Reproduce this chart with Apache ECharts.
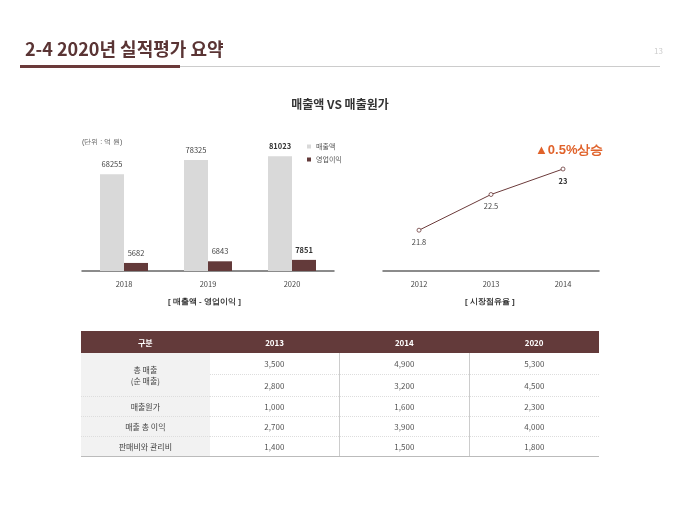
<!DOCTYPE html>
<html><head><meta charset="utf-8">
<script src="https://cdn.jsdelivr.net/npm/echarts@6/dist/echarts.min.js"></script>
<style>
body{margin:0;background:#fff;font-family:"Noto Sans CJK KR","Noto Sans",sans-serif;}
#main{position:absolute;left:0;top:0;width:680px;height:510px;}
table{position:absolute;left:81px;top:331px;width:518px;border-collapse:collapse;font-size:8px;color:#555;text-align:center;}
th{background:#633a3a;color:#fff;height:22px;font-weight:bold;padding:0;}
td{height:19px;padding:0;border-bottom:1px dotted #ddd;}
td.h{background:#f2f2f2;color:#444;}
td.v{border-left:1px solid #ccc;}
tr:last-child td{border-bottom:1px solid #bbb;}
</style></head><body>
<div id="main"></div>
<table id="tbl"></table>
<script>
// 막대 차트 데이터
var barYears = ['2018', '2019', '2020'];
var salesData = [68255, 78325, 81023];
var profitData = [5682, 6843, 7851];
// 시장점유율
var shareYears = ['2012', '2013', '2014'];
var shareData = [21.8, 22.5, 23];
// 표
var tableCols = ['구분', '2013', '2014', '2020'];
var tableRows = [
  ['총 매출<br>(순 매출)', '3,500', '4,900', '5,300'],
  [null, '2,800', '3,200', '4,500'],
  ['매출원가', '1,000', '1,600', '2,300'],
  ['매출 총 이익', '2,700', '3,900', '4,000'],
  ['판매비와 관리비', '1,400', '1,500', '1,800']
];

var html = '<tr>' + tableCols.map(function (c, i) {
  return '<th style="width:' + (i == 0 ? 129 : 130) + 'px">' + c + '</th>';
}).join('') + '</tr>';
tableRows.forEach(function (r, ri) {
  html += '<tr>';
  r.forEach(function (c, i) {
    if (c === null) return;
    if (i == 0) {
      html += '<td class="h"' + (ri == 0 ? ' rowspan="2" style="height:42px"' : '') + '>' + c + '</td>';
    } else {
      html += '<td' + (i > 1 ? ' class="v"' : '') + (ri < 2 ? ' style="height:21px"' : '') + '>' + c + '</td>';
    }
  });
  html += '</tr>';
});
document.getElementById('tbl').innerHTML = html;

var chart = echarts.init(document.getElementById('main'));
function boldLast(p) { return p.dataIndex == 2 ? '{b|' + p.value + '}' : p.value; }
var richBold = {b: {fontSize: 7.5, fontWeight: 'bold', color: '#333'}};
var option = {
  animation: false,
  textStyle: {fontFamily: 'Noto Sans CJK KR'},
  title: [
    {text: '2-4 2020년 실적평가 요약', left: 20, top: 35, textStyle: {fontSize: 18, fontWeight: 'bold', color: '#5a3434'}},
    {text: '13', left: 649, top: 42, textStyle: {fontSize: 8, color: '#ccc', fontWeight: 'normal'}},
    {text: '매출액 VS 매출원가', left: 'center', top: 93, textStyle: {fontSize: 12, fontWeight: 'bold', color: '#333'}}
  ],
  legend: {
    left: 302, top: 138, orient: 'vertical', itemWidth: 4, itemHeight: 4, itemGap: 6,
    icon: 'rect', textStyle: {fontSize: 7, color: '#555'},
    data: ['매출액', '영업이익']
  },
  graphic: [
    {type: 'rect', shape: {x: 20, y: 65, width: 160, height: 3}, style: {fill: '#6b3a3a'}},
    {type: 'rect', shape: {x: 180, y: 66, width: 480, height: 1}, style: {fill: '#ccc'}},
    {type: 'text', left: 82, top: 139, style: {text: '(단위 : 억 원)', fontSize: 7, fill: '#555'}},
    {type: 'text', left: 168, top: 298, style: {text: '[ 매출액 - 영업이익 ]', fontSize: 8, fontWeight: 'bold', fill: '#333'}},
    {type: 'text', left: 465, top: 298, style: {text: '[ 시장점유율 ]', fontSize: 8, fontWeight: 'bold', fill: '#333'}},
    {type: 'text', left: 535, top: 144, style: {text: '▲0.5%상승', fontSize: 13, fontWeight: 'bold', fill: '#e0622a'}}
  ],
  grid: [
    {left: 82, width: 252, top: 101, height: 170},
    {left: 383, width: 216, top: 148.6, height: 122.4}
  ],
  xAxis: [
    {type: 'category', gridIndex: 0, data: barYears, axisTick: {show: false},
      axisLine: {lineStyle: {color: '#666', width: 1.5}}, axisLabel: {fontSize: 7.5, color: '#444', margin: 9}},
    {type: 'category', gridIndex: 1, data: shareYears, axisTick: {show: false},
      axisLine: {lineStyle: {color: '#666', width: 1.5}}, axisLabel: {fontSize: 7.5, color: '#444', margin: 9}}
  ],
  yAxis: [
    {type: 'value', gridIndex: 0, min: 0, max: 120000, show: false},
    {type: 'value', gridIndex: 1, min: 21, max: 23.4, show: false}
  ],
  series: [
    {name: '매출액', type: 'bar', xAxisIndex: 0, yAxisIndex: 0, barWidth: 24, barGap: '0%',
      itemStyle: {color: '#d9d9d9'}, data: salesData,
      label: {show: true, position: 'top', distance: 6, fontSize: 7.5, color: '#444', formatter: boldLast, rich: richBold}},
    {name: '영업이익', type: 'bar', xAxisIndex: 0, yAxisIndex: 0, barWidth: 24,
      itemStyle: {color: '#633a3a'}, data: profitData,
      label: {show: true, position: 'top', distance: 6, fontSize: 7.5, color: '#444', formatter: boldLast, rich: richBold}},
    {name: '시장점유율', type: 'line', xAxisIndex: 1, yAxisIndex: 1, data: shareData,
      symbol: 'circle', symbolSize: 4, lineStyle: {color: '#6b3a3a', width: 1},
      itemStyle: {color: '#fff', borderColor: '#6b3a3a', borderWidth: 0.8},
      label: {show: true, position: 'bottom', distance: 6, fontSize: 7.5, color: '#444', formatter: boldLast, rich: richBold}}
  ]
};
chart.setOption(option);
</script>
</body></html>
